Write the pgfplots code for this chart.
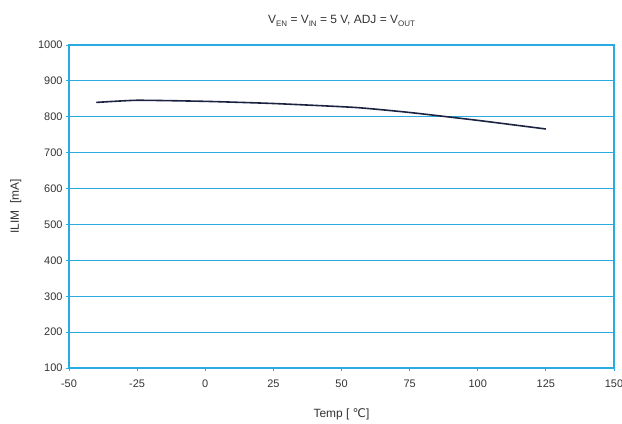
\documentclass[border=0pt]{standalone}
\usepackage{fontspec}
\setmainfont{Liberation Sans}
\newfontfamily\dejavu{DejaVu Sans}
\usepackage{pgfplots}
\pgfplotsset{compat=1.18}
\definecolor{axblue}{HTML}{29ABE2}
\definecolor{navy}{HTML}{1B2340}
\definecolor{txt}{HTML}{333333}
\newcommand{\sub}[1]{\raisebox{-2.5bp}{\fontsize{8}{9}\selectfont #1}}
\begin{document}
\begin{tikzpicture}[x=1bp,y=1bp]
\path[use as bounding box] (-69,-55) rectangle (553,368);
\begin{axis}[
  scale only axis, width=545bp, height=323bp,
  at={(0,0)}, anchor=south west,
  xmin=-50, xmax=150, ymin=100, ymax=1000,
  xtick={-50,-25,...,150}, ytick={100,200,...,1000},
  /pgf/number format/1000 sep={},
  axis line style={axblue, line width=1.2pt},
  ymajorgrids, grid style={axblue, line width=0.8pt},
  major tick style={axblue, line width=0.8pt},
  tick align=outside, major tick length=3bp,
  xtick pos=bottom, ytick pos=left,
  ticklabel style={font=\fontsize{11}{13}\selectfont, text=txt},
  /pgf/number format/assume math mode=true,
  xticklabel style={yshift=-5bp},
  label style={font=\fontsize{12}{14}\selectfont, text=txt},
  xlabel={Temp [ {\dejavu\char"2103}]},
  ylabel={ILIM\ \ [mA]},
  xlabel style={yshift=-14bp},
  ylabel style={yshift=10bp},
  title={V\sub{EN} = V\sub{IN} = 5 V, ADJ = V\sub{OUT}},
  title style={font=\fontsize{12}{14}\selectfont, text=txt, yshift=9bp},
]
\addplot[navy, line width=1.6pt, smooth, tension=0.3] coordinates {
(-40,840) (-25,846) (0,843) (25,837) (55,826) (75,812) (100,790) (125,766)
};
\end{axis}
\end{tikzpicture}
\end{document}
